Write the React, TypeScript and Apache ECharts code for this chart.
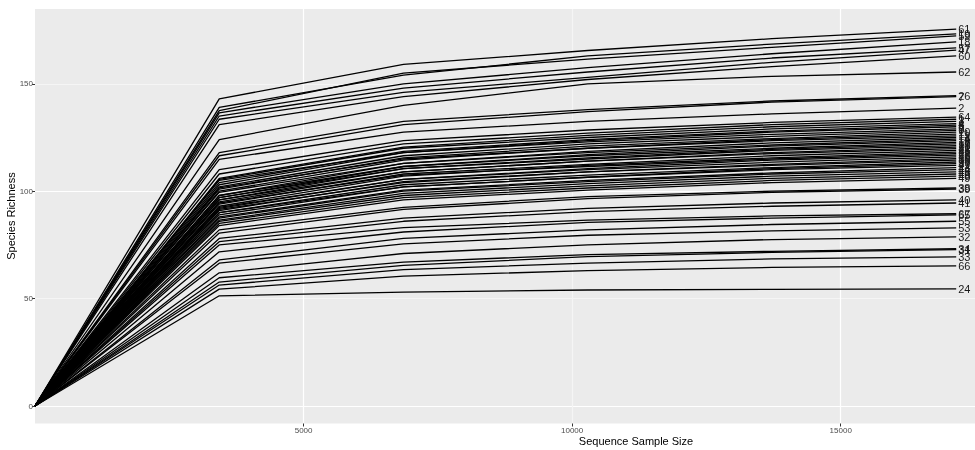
import React, { useEffect, useRef } from "react";
import * as echarts from "echarts";

const depths = [0, 3430, 6860, 10290, 13720, 17150];

const sampleIds = [
  "61", "19", "59", "18", "57", "47", "60", "62", "26", "7", "2", "64",
  "1", "3", "4", "5", "6", "8", "9", "10", "11", "12", "13", "14", "15", "16", "17",
  "20", "21", "22", "23", "25", "27", "28", "29", "30", "35", "36", "37", "42", "43",
  "44", "45", "46", "48", "49",
  "38", "39", "40", "41", "67", "65", "55", "53", "32", "34", "31", "33", "66", "24",
];

const richness: number[][] = [
  [0, 143, 159, 165.5, 171, 175.5],
  [0, 139, 154, 163, 168.5, 173.2],
  [0, 137.5, 155, 161.5, 167, 172.3],
  [0, 136.5, 150, 157.5, 164, 169.5],
  [0, 135, 148, 155.5, 162, 166.7],
  [0, 133.5, 146, 153, 160, 165.7],
  [0, 131, 144, 152, 158, 163],
  [0, 124, 140, 150, 153.5, 155.5],
  [0, 118, 132.5, 138, 142, 144.5],
  [0, 116.5, 131, 137, 141.5, 144],
  [0, 114.8, 127.5, 132.5, 136, 138.7],
  [0, 110, 123.5, 128.5, 132, 134.5],
  [0, 108, 122, 127, 131, 133.5],
  [0, 106, 120.5, 126, 130, 132.5],
  [0, 105.5, 120, 125, 129, 131.5],
  [0, 104, 118.5, 124, 128, 130.8],
  [0, 103, 118, 123.5, 127.5, 130],
  [0, 105, 118, 123, 126.5, 129],
  [0, 102, 116.5, 122, 125.5, 128.3],
  [0, 101, 115.5, 121, 124.5, 127.5],
  [0, 100, 114.5, 120, 124, 126.6],
  [0, 101.5, 115, 120, 123.5, 125.8],
  [0, 98, 113, 118.5, 122.5, 125],
  [0, 99.5, 113, 118, 121.5, 124.2],
  [0, 97, 111.5, 117, 121, 123.5],
  [0, 98, 111.5, 116.5, 120, 122.7],
  [0, 96, 110.5, 115.5, 119.5, 122],
  [0, 97, 110.5, 115, 119, 121.2],
  [0, 95, 109, 114, 118, 120.5],
  [0, 96, 109, 114, 117.5, 119.8],
  [0, 94, 108, 112.5, 116.5, 119],
  [0, 93, 107, 112, 115.5, 118.2],
  [0, 94.5, 107.5, 111.5, 115, 117.5],
  [0, 92, 105.5, 110.5, 114.5, 116.8],
  [0, 92.5, 105.5, 110, 113.5, 116],
  [0, 91, 104.5, 109, 112.5, 115.2],
  [0, 91.5, 104, 109, 112, 114.5],
  [0, 90, 103, 107.5, 111, 113.6],
  [0, 89, 102, 106.5, 110.5, 112.8],
  [0, 90, 102, 106.5, 110, 112],
  [0, 88, 100.5, 105, 108.5, 111],
  [0, 87.5, 100, 104.5, 108, 110],
  [0, 86.5, 99, 103.5, 107, 109],
  [0, 86, 98, 102.5, 106, 108],
  [0, 85, 97, 101.5, 105, 107],
  [0, 84, 96, 100.5, 104, 106],
  [0, 82, 92.5, 97.5, 100, 101.5],
  [0, 80.5, 91.5, 96.5, 99.5, 101],
  [0, 78, 87.5, 92, 94.5, 96],
  [0, 76.5, 86, 90.5, 93, 94.5],
  [0, 75, 83, 86.5, 88.5, 89.5],
  [0, 71.8, 81, 85.5, 87.5, 89],
  [0, 68, 78, 82, 84.5, 86],
  [0, 66.5, 75.5, 79.5, 81.5, 82.9],
  [0, 62, 71, 75, 77.5, 78.7],
  [0, 59.7, 67, 70.5, 72, 73.2],
  [0, 57.7, 65.5, 69.5, 71.5, 72.8],
  [0, 56.3, 63.5, 66.5, 68.5, 69.4],
  [0, 54.4, 60.5, 63, 64.5, 65.2],
  [0, 51.3, 53, 54, 54.3, 54.5],
];

const xTickLabels = [5000, 10000, 15000];
const yTickLabels = [0, 50, 100, 150];

const FONT = "'Liberation Sans', Arial, Helvetica, sans-serif";

export default function App() {
  const ref = useRef<HTMLDivElement>(null);

  useEffect(() => {
    document.body.style.margin = "0";
    if (!ref.current) return;
    const chart = echarts.init(ref.current, null, { renderer: "svg" });

    const series = sampleIds.map((id, i) => ({
      name: id,
      type: "line",
      xAxisIndex: 1,
      yAxisIndex: 1,
      data: depths.map((d, j) => [d, richness[i][j]]),
      showSymbol: false,
      symbol: "none",
      clip: false,
      silent: true,
      lineStyle: { color: "#000000", width: 1.3 },
      emphasis: { disabled: true },
      endLabel: {
        show: true,
        formatter: id,
        distance: 2,
        color: "#1A1A1A",
        fontSize: 11,
        fontFamily: FONT,
      },
    }));

    chart.setOption({
      animation: false,
      textStyle: { fontFamily: FONT },
      grid: [
        {
          left: 35,
          right: 0,
          top: 9,
          bottom: 26.5,
          show: true,
          backgroundColor: "#EBEBEB",
          borderWidth: 0,
        },
        {
          left: 35,
          right: 0,
          top: 30.1,
          bottom: 44,
          show: false,
        },
      ],
      xAxis: [
        {
          gridIndex: 0,
          type: "value",
          min: 0,
          max: 17500,
          interval: 2500,
          axisLine: { show: false },
          axisTick: {
            show: true,
            length: 3,
            lineStyle: { color: "#333333", width: 1 },
            customValues: xTickLabels,
          },
          axisLabel: {
            show: true,
            margin: 3,
            fontSize: 8,
            color: "#4D4D4D",
            customValues: xTickLabels,
            formatter: (v: number) => (xTickLabels.includes(v) ? String(v) : ""),
          },
          splitLine: {
            show: true,
            lineStyle: { color: ["#FFFFFF", "#F5F5F5"], width: 1.2 },
          },
        },
        {
          gridIndex: 1,
          type: "value",
          min: 0,
          max: 17500,
          show: false,
          splitLine: { show: false },
        },
      ],
      yAxis: [
        {
          gridIndex: 0,
          type: "value",
          min: 0,
          max: 1,
          show: false,
          splitLine: { show: false },
        },
        {
          gridIndex: 1,
          type: "value",
          min: 0,
          max: 175,
          interval: 25,
          axisLine: { show: false },
          axisTick: {
            show: true,
            length: 3,
            lineStyle: { color: "#333333", width: 1 },
            customValues: yTickLabels,
          },
          axisLabel: {
            show: true,
            margin: 2,
            fontSize: 8,
            color: "#4D4D4D",
            customValues: yTickLabels,
            formatter: (v: number) => (yTickLabels.includes(v) ? String(v) : ""),
          },
          splitLine: {
            show: true,
            lineStyle: { color: ["#FFFFFF", "#F5F5F5"], width: 1.2 },
          },
        },
      ],
      graphic: [
        {
          type: "text",
          x: 636,
          y: 441,
          style: {
            text: "Sequence Sample Size",
            fontSize: 11,
            fontFamily: FONT,
            fill: "#000000",
            align: "center",
            verticalAlign: "middle",
          },
        },
        {
          type: "text",
          x: 11,
          y: 216,
          rotation: Math.PI / 2,
          style: {
            text: "Species Richness",
            fontSize: 11,
            fontFamily: FONT,
            fill: "#000000",
            align: "center",
            verticalAlign: "middle",
          },
        },
      ],
      series,
    });

    return () => chart.dispose();
  }, []);

  return (
    <div
      ref={ref}
      style={{ position: "fixed", left: 0, top: 0, width: 975, height: 450 }}
    />
  );
}
